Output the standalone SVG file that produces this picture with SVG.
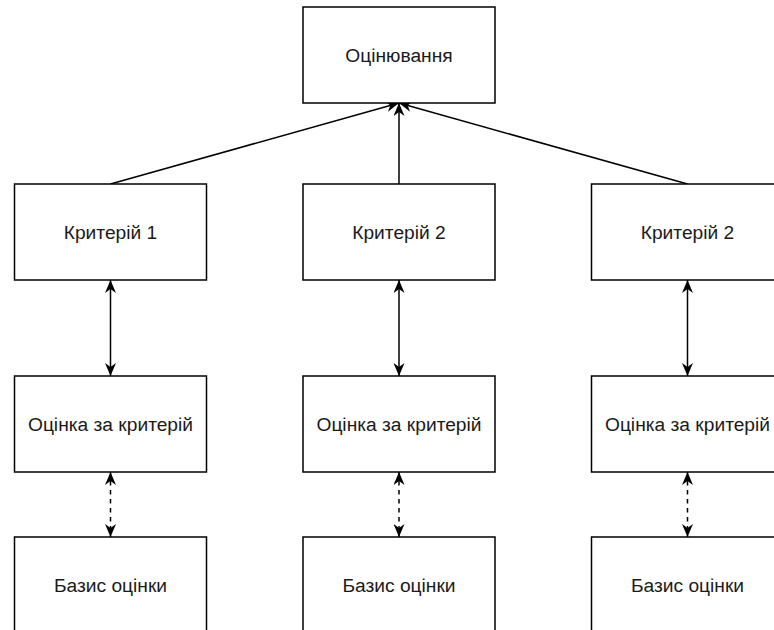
<svg xmlns="http://www.w3.org/2000/svg" width="774" height="630" viewBox="0 0 774 630">
<style>
.box{fill:#fff;stroke:#000;stroke-width:1.5}
.lbl{font-family:"Liberation Sans",Arial,sans-serif;font-size:19.2px;fill:#1a1a1a;text-anchor:middle;dominant-baseline:central}
.ln{fill:none;stroke:#000;stroke-width:1.5}
.dash{stroke-dasharray:4.5 4.5}
</style>
<defs>
<marker id="ah" viewBox="0 0 13 11" refX="13" refY="5.5" markerWidth="13" markerHeight="11" markerUnits="userSpaceOnUse" orient="auto-start-reverse">
<path d="M0,0 L13,5.5 L0,11 L4,5.5 Z" fill="#000"/>
</marker>
</defs>
<rect width="774" height="630" fill="#fff"/>
<g id="connectors">
<path class="ln" d="M110.5,184 L399,103" marker-end="url(#ah)"/>
<path class="ln" d="M399,184 L399,103" marker-end="url(#ah)"/>
<path class="ln" d="M687.5,184 L399,103" marker-end="url(#ah)"/>
<path class="ln" d="M110.5,280 L110.5,376" marker-start="url(#ah)" marker-end="url(#ah)"/>
<path class="ln" d="M399,280 L399,376" marker-start="url(#ah)" marker-end="url(#ah)"/>
<path class="ln" d="M687.5,280 L687.5,376" marker-start="url(#ah)" marker-end="url(#ah)"/>
<path class="ln dash" d="M110.5,472 L110.5,537" marker-start="url(#ah)" marker-end="url(#ah)"/>
<path class="ln dash" d="M399,472 L399,537" marker-start="url(#ah)" marker-end="url(#ah)"/>
<path class="ln dash" d="M687.5,472 L687.5,537" marker-start="url(#ah)" marker-end="url(#ah)"/>
</g>
<g id="n-top"><rect class="box" x="303" y="7" width="192" height="96"/><text class="lbl" x="399" y="55">Оцінювання</text></g>
<g id="n-k1"><rect class="box" x="14.5" y="184" width="192" height="96"/><text class="lbl" x="110.5" y="232">Критерій 1</text></g>
<g id="n-k2"><rect class="box" x="303" y="184" width="192" height="96"/><text class="lbl" x="399" y="232">Критерій 2</text></g>
<g id="n-k3"><rect class="box" x="591.5" y="184" width="192" height="96"/><text class="lbl" x="687.5" y="232">Критерій 2</text></g>
<g id="n-o1"><rect class="box" x="14.5" y="376" width="192" height="96"/><text class="lbl" x="110.5" y="424">Оцінка за критерій</text></g>
<g id="n-o2"><rect class="box" x="303" y="376" width="192" height="96"/><text class="lbl" x="399" y="424">Оцінка за критерій</text></g>
<g id="n-o3"><rect class="box" x="591.5" y="376" width="192" height="96"/><text class="lbl" x="687.5" y="424">Оцінка за критерій</text></g>
<g id="n-b1"><rect class="box" x="14.5" y="537" width="192" height="96"/><text class="lbl" x="110.5" y="585">Базис оцінки</text></g>
<g id="n-b2"><rect class="box" x="303" y="537" width="192" height="96"/><text class="lbl" x="399" y="585">Базис оцінки</text></g>
<g id="n-b3"><rect class="box" x="591.5" y="537" width="192" height="96"/><text class="lbl" x="687.5" y="585">Базис оцінки</text></g>
</svg>
